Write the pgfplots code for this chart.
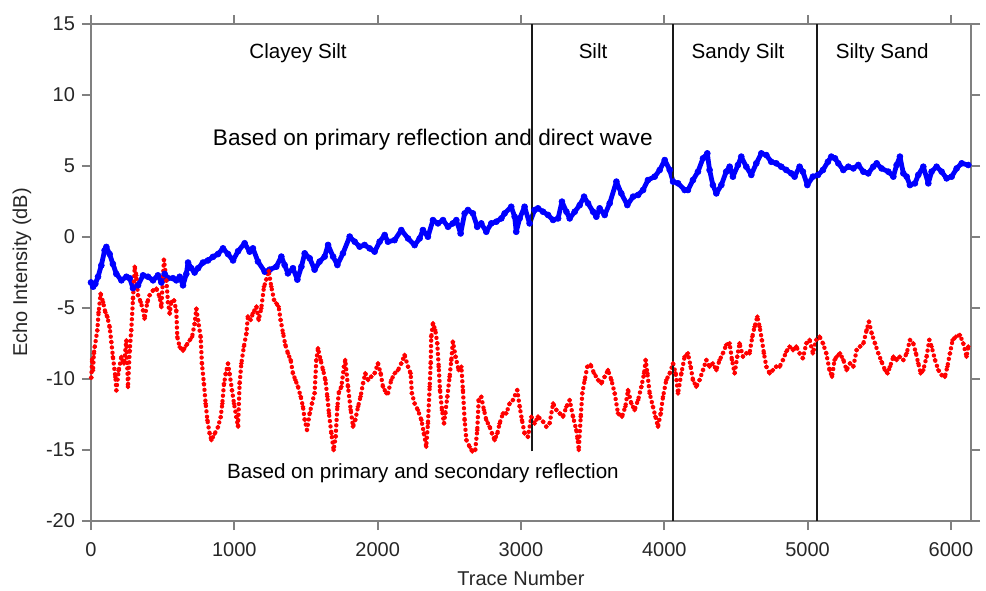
\documentclass[border=0pt]{standalone}
\usepackage{fontspec}
\setmainfont{Liberation Sans}
\usepackage{pgfplots}
\usepackage{pgfplotstable}
\pgfplotsset{compat=1.18}

% Echo intensity from primary reflection and direct wave
\pgfplotstableread{
x y
0 -3.2
15 -3.5
30 -3.3
49 -2.8
72 -2.0
95 -0.94
107 -0.7
130 -1.2
153 -1.9
177 -2.6
212 -3.05
247 -2.8
270 -2.9
293 -3.6
328 -3.4
363 -2.7
398 -2.8
433 -3.05
467 -2.7
491 -3.2
514 -2.6
537 -2.9
572 -2.9
595 -3.05
619 -2.8
642 -3.4
665 -2.6
677 -1.8
700 -2.2
723 -2.5
747 -2.2
781 -1.8
816 -1.65
851 -1.4
886 -1.2
921 -0.8
956 -1.2
991 -1.65
1026 -1.0
1072 -0.44
1107 -1.03
1130 -0.8
1165 -1.73
1212 -2.44
1247 -2.3
1293 -2.09
1328 -1.38
1351 -1.97
1374 -2.56
1409 -2.2
1440 -3.0
1468 -2.09
1491 -1.15
1526 -1.5
1560 -2.3
1595 -1.73
1630 -1.38
1654 -0.56
1689 -1.38
1719 -1.97
1758 -1.15
1805 0.03
1840 -0.33
1874 -0.68
1909 -0.56
1944 -0.8
1979 -1.03
2014 -0.33
2049 0.14
2072 -0.33
2118 -0.22
2165 0.49
2212 -0.1
2258 -0.57
2293 -0.1
2316 0.49
2351 0.02
2386 1.19
2421 0.96
2456 1.19
2491 0.72
2525 0.96
2549 1.19
2579 0.25
2607 1.66
2630 1.9
2665 1.66
2695 0.72
2723 0.96
2758 0.37
2793 0.96
2828 1.08
2863 1.31
2886 1.66
2932 2.13
2956 1.43
2967 0.37
2991 1.31
3025 2.13
3060 0.96
3095 1.9
3119 2.02
3154 1.78
3189 1.55
3224 1.2
3259 1.31
3286 2.49
3317 1.78
3340 1.31
3375 1.78
3410 2.25
3440 2.84
3468 2.37
3503 1.78
3526 1.43
3549 2.02
3584 1.55
3619 2.37
3666 3.9
3700 3.07
3742 2.25
3782 2.84
3817 2.96
3852 3.31
3886 4.01
3933 4.25
3968 4.72
4003 5.42
4038 4.72
4061 3.9
4096 3.78
4142 3.31
4165 3.31
4200 4.01
4235 4.6
4270 5.54
4300 5.89
4316 4.72
4339 3.66
4363 3.07
4398 3.66
4432 4.6
4456 4.95
4479 4.25
4514 5.07
4537 5.66
4572 4.95
4607 4.37
4642 5.19
4677 5.89
4712 5.77
4746 5.3
4781 5.19
4816 4.95
4851 4.72
4886 4.48
4909 4.25
4944 4.95
4967 4.6
4998 3.66
5037 4.25
5072 4.37
5107 4.72
5142 5.3
5165 5.66
5191 5.54
5214 5.19
5249 4.72
5284 4.95
5319 4.83
5354 5.07
5389 4.6
5423 4.48
5458 4.95
5482 5.19
5516 4.83
5563 4.6
5598 4.25
5621 5.07
5644 5.66
5668 4.48
5691 4.25
5714 3.66
5749 3.78
5772 4.37
5807 4.95
5842 3.78
5865 4.6
5900 4.95
5935 4.6
5970 4.13
6005 4.25
6040 4.83
6075 5.19
6121 5.07
}\direct

% Echo intensity from primary and secondary reflection
\pgfplotstableread{
x y
2 -9.9
8 -8.6
14 -9.4
20 -8.2
26 -7.75
44 -6.57
53 -5.3
67 -4.0
84 -4.58
100 -5.3
114 -5.63
130 -6.34
142 -7.4
153 -8.45
170 -9.86
177 -10.8
193 -9.4
212 -8.45
230 -8.9
247 -7.28
258 -10.56
270 -8.0
281 -6.57
293 -4.34
305 -2.1
316 -2.7
328 -4.1
347 -4.58
363 -5.16
374 -5.75
393 -4.58
409 -4.1
433 -3.76
456 -3.64
479 -4.23
491 -4.93
509 -1.6
526 -3.05
537 -4.58
549 -5.4
560 -4.58
579 -4.46
595 -5.16
602 -7.04
619 -7.75
642 -8.0
665 -7.63
688 -7.28
705 -7.04
723 -6.1
735 -5.05
747 -5.87
765 -7.04
774 -8.92
788 -10.33
800 -11.74
812 -12.9
828 -13.85
840 -14.3
863 -13.85
886 -13.38
905 -12.68
916 -11.74
928 -10.33
940 -9.62
956 -8.92
967 -9.62
984 -10.8
998 -11.74
1014 -12.68
1026 -13.35
1037 -10.3
1049 -8.9
1067 -7.7
1084 -6.8
1095 -5.6
1114 -5.84
1130 -5.37
1154 -4.9
1170 -5.84
1188 -5.02
1207 -3.5
1223 -3.0
1240 -2.4
1258 -3.5
1277 -4.43
1293 -4.67
1309 -4.9
1323 -5.84
1340 -6.78
1356 -7.6
1374 -8.19
1393 -8.66
1409 -9.6
1426 -10.07
1444 -10.54
1463 -11.24
1479 -11.95
1491 -12.88
1507 -13.59
1526 -12.4
1542 -11.71
1560 -11.0
1572 -8.66
1584 -7.84
1602 -8.66
1619 -9.36
1635 -10.07
1649 -11.24
1660 -12.4
1677 -13.82
1693 -15.0
1707 -14.06
1719 -11.95
1730 -10.9
1747 -10.54
1765 -9.13
1774 -8.66
1793 -10.54
1812 -12.18
1828 -13.35
1844 -12.88
1863 -11.95
1881 -11.24
1898 -10.3
1914 -9.6
1933 -10.07
1956 -9.83
1979 -9.6
2002 -8.9
2021 -9.6
2037 -10.54
2060 -11.0
2072 -11.0
2095 -10.07
2119 -9.6
2142 -9.37
2165 -8.9
2188 -8.31
2212 -9.14
2230 -9.6
2239 -11.0
2258 -11.72
2281 -12.19
2305 -12.89
2323 -13.83
2339 -14.77
2351 -13.13
2363 -10.54
2370 -8.9
2374 -7.02
2386 -6.08
2402 -6.55
2416 -7.49
2426 -9.14
2435 -10.78
2449 -12.19
2463 -13.13
2472 -12.42
2486 -11.25
2502 -9.84
2514 -8.67
2525 -7.37
2544 -8.43
2565 -9.37
2584 -9.14
2595 -10.78
2607 -12.89
2619 -14.3
2642 -14.77
2660 -15.1
2681 -15.0
2695 -13.6
2705 -11.48
2723 -11.25
2742 -12.19
2758 -12.89
2781 -13.36
2798 -13.83
2816 -14.3
2835 -13.83
2851 -13.13
2874 -12.42
2898 -12.42
2921 -11.72
2944 -11.48
2974 -10.78
2991 -11.95
3007 -12.89
3025 -13.83
3049 -14.07
3072 -12.66
3095 -13.13
3119 -12.65
3154 -13.0
3177 -13.36
3200 -13.12
3224 -11.72
3247 -12.18
3270 -12.42
3293 -12.65
3317 -11.95
3340 -11.48
3363 -12.65
3386 -13.59
3395 -14.2
3403 -15.0
3417 -12.65
3428 -11.01
3445 -10.07
3463 -9.13
3486 -9.01
3510 -9.6
3538 -10.07
3561 -10.3
3584 -9.84
3607 -9.37
3631 -10.07
3654 -11.01
3677 -12.42
3705 -12.65
3728 -11.95
3747 -10.78
3770 -11.72
3793 -12.18
3817 -11.48
3840 -10.54
3859 -9.6
3870 -8.66
3882 -9.6
3898 -11.01
3921 -11.95
3938 -12.65
3956 -13.36
3975 -12.42
3991 -11.25
4014 -10.07
4038 -9.6
4061 -8.9
4079 -9.6
4096 -11.01
4119 -9.6
4142 -8.43
4165 -8.19
4184 -9.13
4200 -10.07
4223 -10.54
4246 -10.07
4270 -9.37
4293 -8.66
4316 -9.13
4339 -8.9
4363 -9.37
4386 -8.66
4409 -8.19
4432 -7.6
4456 -7.49
4472 -8.66
4491 -9.6
4509 -8.43
4525 -7.49
4549 -8.43
4572 -8.19
4595 -8.19
4614 -7.02
4630 -6.32
4649 -5.61
4665 -6.32
4681 -7.25
4695 -8.19
4712 -9.13
4735 -9.6
4758 -9.37
4781 -9.13
4805 -9.13
4828 -8.66
4851 -8.07
4874 -7.72
4898 -7.96
4921 -7.72
4944 -8.19
4967 -8.54
4991 -7.49
5014 -7.25
5037 -8.19
5060 -7.25
5084 -7.02
5107 -7.49
5130 -8.19
5153 -9.37
5170 -9.84
5188 -8.66
5203 -8.43
5226 -8.19
5249 -8.66
5272 -9.37
5296 -8.9
5319 -9.13
5342 -7.96
5365 -7.72
5389 -7.49
5412 -6.55
5428 -5.96
5447 -6.78
5470 -7.49
5493 -8.19
5516 -8.78
5540 -9.37
5558 -9.6
5575 -9.13
5598 -8.43
5621 -8.66
5644 -8.43
5668 -8.66
5691 -8.19
5714 -7.25
5737 -7.49
5756 -8.19
5772 -8.9
5789 -9.6
5807 -9.37
5830 -8.43
5849 -7.25
5865 -7.72
5889 -8.66
5912 -9.37
5935 -9.72
5958 -9.84
5975 -9.13
5993 -8.19
6012 -7.25
6035 -7.02
6063 -6.9
6086 -7.49
6109 -8.43
6121 -7.72
}\secondary

\definecolor{axisgray}{RGB}{128,128,128}
\definecolor{labelgray}{RGB}{38,38,38}

\begin{document}
\begin{tikzpicture}
\begin{axis}[
  scale only axis,
  width=440pt, height=248.5pt,
  xmin=0, xmax=6140, ymin=-20, ymax=15,
  xtick={0,1000,...,6000},
  ytick={-20,-15,...,15},
  scaled x ticks=false,
  /pgf/number format/1000 sep={},
  /pgf/number format/assume math mode=true,
  tick align=outside,
  major tick length=4.5pt,
  axis line style={axisgray, line width=0.9pt},
  every tick/.style={axisgray, line width=0.9pt},
  tick label style={labelgray, font=\fontsize{10}{12}\selectfont},
  xticklabel style={yshift=-2.5pt},
  xlabel={Trace Number},
  ylabel={Echo Intensity (dB)},
  xlabel style={font=\fontsize{9.7}{12}\selectfont},
  ylabel style={font=\fontsize{10.6}{12}\selectfont},
  every axis x label/.style={labelgray, at={(axis description cs:0.5,0)}, anchor=center, xshift=-5pt, yshift=-28.5pt},
  every axis y label/.style={labelgray, at={(axis description cs:0,0.5)}, anchor=center, xshift=-34.5pt, rotate=90},
  clip=false,
]
% thick band of closely spaced samples
\addplot[blue, line width=2.4pt, line join=round, line cap=round,
  mark=*, mark size=1.5pt, mark options={line width=0.3pt}] table[x=x, y=y] {\direct};
% densely sampled dots: round dots along the trace plus a dot at every sample
\addplot[red, line width=2.2pt, line cap=round, dash pattern=on 0pt off 2.7pt,
  mark=*, mark size=0.95pt, mark options={solid, line width=0.4pt}] table[x=x, y=y] {\secondary};

% boundaries between sediment classes
\addplot[black!90, line width=1pt, forget plot] coordinates {(3080,-15.1) (3080,15)};
\addplot[black!90, line width=1pt, forget plot] coordinates {(4061,-20) (4061,15)};
\addplot[black!90, line width=1pt, forget plot] coordinates {(5067,-20) (5067,15)};

\begin{scope}[every node/.style={anchor=base, font=\fontsize{10.3}{12}\selectfont}]
\node at (axis cs:1445,12.55) {Clayey Silt};
\node at (axis cs:3503,12.55) {Silt};
\node at (axis cs:4515,12.55) {Sandy Silt};
\node at (axis cs:5520,12.55) {Silty Sand};
\node[font=\fontsize{11.3}{13}\selectfont] at (axis cs:2385,6.45) {Based on primary reflection and direct wave};
\node at (axis cs:2316,-17.0) {Based on primary and secondary reflection};
\end{scope}
\end{axis}
\pgfresetboundingbox
\path (-45.5pt,-34.5pt) rectangle (447.5pt,260.5pt);
\end{tikzpicture}
\end{document}
